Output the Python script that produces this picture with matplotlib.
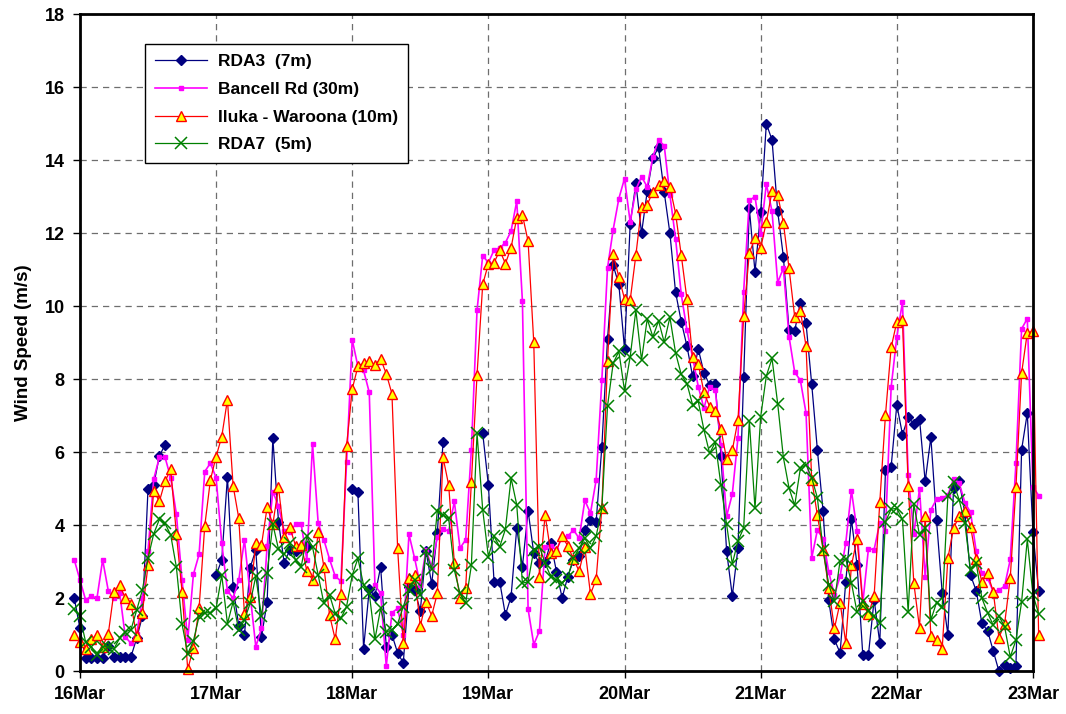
import numpy as np
import matplotlib
matplotlib.use("Agg")
import matplotlib.pyplot as plt

plt.rcParams['font.family'] = ['Liberation Sans', 'DejaVu Sans']
plt.rcParams['font.weight'] = 'bold'

nan = np.nan

# hourly wind speed (m/s), 15Mar 23:00 .. 23Mar 01:00
rda3 = [2.0,
    1.17, 0.35, 0.35, 0.35, 0.35, 0.7, 0.4, 0.4, 0.4, 0.4, 0.9, 1.5, 5.0, 5.1, 5.9, 6.2, nan, nan, nan, nan, nan, nan, nan, nan,
    2.63, 3.05, 5.33, 2.3, 1.24, 0.99, 2.84, 3.32, 0.94, 1.9, 6.39, 4.1, 2.97, 3.32, 3.3, 3.37, 3.44, nan, nan, nan, nan, nan, nan, nan,
    4.99, 4.9, 0.62, 2.24, 2.06, 2.86, 0.67, 1.0, 0.5, 0.23, 2.3, 2.22, 1.66, 3.3, 2.39, 3.78, 6.27, nan, nan, nan, nan, nan, nan, 6.52,
    5.1, 2.45, 2.45, 1.54, 2.04, 3.92, 2.86, 4.4, 3.23, 2.96, 3.0, 3.52, 2.73, 2.01, 2.59, 3.05, 3.16, 3.87, 4.13, 4.1, 6.14, 9.1, 11.12, 10.6,
    8.83, 12.26, 13.37, 12.0, 13.15, 14.07, 14.35, 13.12, 12.0, 10.38, 9.58, 8.91, 8.08, 8.83, 8.18, 7.84, 7.86, 5.9, 3.28, 2.06, 3.38, 8.05, 12.68, 10.94,
    12.57, 15.0, 14.56, 12.6, 11.36, 9.35, 9.33, 10.1, 9.53, 7.86, 6.06, 4.39, 1.94, 0.87, 0.5, 2.45, 4.16, 2.9, 0.45, 0.45, 1.96, 0.77, 5.5, 5.6,
    7.3, 6.48, 6.96, 6.78, 6.91, 5.2, 6.41, 4.13, 2.15, 1.0, 5.01, 5.2, 4.33, 2.63, 2.2, 1.31, 1.11, 0.56, 0.0, 0.16, 0.1, 0.15, 6.07, 7.07,
    3.8, 2.2]

bancell = [3.05,
    2.5, 1.95, 2.06, 2.0, 3.05, 2.2, 2.0, 2.15, 0.94, 0.76, 1.03, 2.0, 3.3, 5.26, 5.86, 5.86, 5.3, 4.3, 2.5, 0.85, 2.65, 3.2, 5.47, 5.7,
    5.3, 3.5, 2.2, 2.0, 2.5, 3.6, 2.1, 0.67, 1.17, 3.43, 4.92, 4.53, 3.83, 3.8, 4.03, 4.03, 3.05, 6.23, 4.05, 3.6, 3.07, 2.6, 2.47, 5.72,
    9.08, 8.35, 8.24, 7.64, 2.36, 2.13, 0.14, 1.6, 1.72, 1.0, 3.75, 3.09, 2.36, 3.32, 2.86, 3.67, 3.89, 3.84, 4.65, 3.37, 3.6, 6.07, 9.89, 11.39,
    11.19, 11.54, 11.6, 11.74, 12.06, 12.88, 10.14, 1.7, 0.73, 1.1, 3.41, 3.44, 3.32, 3.67, 3.7, 3.87, 3.64, 4.68, 4.33, 5.24, 7.97, 11.05, 12.1, 12.95,
    13.5, 12.3, 13.2, 13.55, 13.27, 14.1, 14.55, 14.4, 13.05, 11.85, 10.33, 9.35, 8.6, 7.8, 7.2, 7.8, 7.7, 6.2, 4.25, 4.85, 6.4, 10.4, 12.9, 13.0,
    11.98, 13.35, 12.6, 10.65, 11.04, 9.17, 8.19, 7.97, 7.07, 3.1, 3.87, 3.63, 2.72, 2.08, 2.6, 3.51, 4.95, 3.84, 1.86, 3.36, 3.33, 4.07, 3.84, 7.78,
    9.16, 10.12, 5.38, 3.76, 5.0, 2.57, 4.42, 4.71, 4.74, 4.83, 5.27, 5.15, 4.62, 4.35, 3.28, 2.68, 2.55, 2.18, 2.22, 2.33, 3.06, 5.7, 9.38, 9.66,
    5.06, 4.81]

iluka = [1.0,
    0.8, 0.6, 0.87, 1.0, 0.67, 1.03, 2.18, 2.36, 2.0, 1.84, 0.96, 1.6, 2.9, 4.95, 4.65, 5.2, 5.53, 3.76, 2.18, 0.05, 0.64, 1.72, 3.98, 5.24,
    5.88, 6.43, 7.44, 5.08, 4.19, 1.56, 2.04, 3.5, 3.46, 4.49, 4.03, 5.04, 3.67, 3.94, 3.44, 3.46, 2.75, 2.5, 3.8, 2.86, 1.54, 0.87, 2.11, 6.16,
    7.73, 8.35, 8.44, 8.49, 8.38, 8.56, 8.15, 7.6, 3.37, 0.76, 2.56, 2.63, 1.24, 1.9, 1.52, 2.13, 5.86, 5.1, 2.97, 2.0, 2.29, 5.17, 8.12, 10.6,
    11.16, 11.19, 11.53, 11.17, 11.6, 12.42, 12.5, 11.78, 9.01, 2.59, 4.28, 3.25, 3.3, 3.7, 3.43, 3.07, 2.74, 3.39, 2.11, 2.52, 4.46, 8.49, 11.42, 10.8,
    10.2, 10.17, 11.4, 12.73, 12.78, 13.14, 13.32, 13.44, 13.27, 12.54, 11.4, 10.2, 8.6, 8.42, 7.64, 7.25, 7.12, 6.64, 5.8, 6.05, 6.88, 9.72, 11.46, 11.87,
    11.6, 12.3, 13.15, 13.05, 12.29, 11.04, 9.71, 9.88, 8.9, 5.25, 4.27, 3.33, 2.27, 1.17, 1.88, 0.78, 2.9, 3.63, 1.84, 1.56, 2.06, 4.63, 7.02, 8.87,
    9.57, 9.62, 5.08, 2.41, 1.19, 4.25, 0.96, 0.85, 0.62, 3.09, 3.92, 4.24, 4.4, 3.96, 3.06, 2.45, 2.68, 2.18, 0.92, 1.29, 2.56, 5.04, 8.17, 9.27,
    9.31, 1.0]

rda7 = [1.7,
    1.5, 0.8, 0.67, 0.44, 0.67, 0.67, 0.62, 0.9, 1.08, 1.14, 1.67, 2.22, 3.1, 3.76, 4.16, 4.05, 3.73, 2.85, 1.29, 0.48, 0.83, 1.5, 1.6, 1.6,
    1.72, 2.63, 1.3, 1.9, 1.12, 1.4, 1.86, 2.6, 1.5, 2.7, 4.03, 3.34, 3.2, 3.5, 3.05, 2.86, 3.69, 3.4, 2.63, 1.86, 2.09, 1.58, 1.45, 1.77,
    2.63, 3.09, 2.36, 2.13, 0.87, 1.72, 1.08, 1.12, 1.3, 1.77, 2.22, 2.5, 2.09, 3.28, 2.79, 4.4, 4.28, 4.19, 2.77, 2.13, 1.86, 2.9, 6.52, 4.42,
    3.14, 3.69, 3.41, 3.89, 5.29, 4.56, 2.41, 2.45, 3.32, 3.41, 2.96, 2.59, 2.5, 2.41, 2.59, 3.09, 3.37, 3.64, 3.37, 3.7, 4.46, 7.26, 8.44, 8.76,
    7.69, 8.62, 9.89, 8.52, 9.65, 9.16, 9.6, 9.01, 9.7, 8.72, 8.13, 7.88, 7.3, 7.39, 6.61, 5.97, 6.27, 5.09, 4.02, 2.94, 3.57, 3.92, 6.86, 4.46,
    6.97, 8.09, 8.57, 7.33, 5.86, 5.02, 4.54, 5.56, 5.66, 5.3, 4.75, 3.33, 2.37, 1.91, 3.03, 3.08, 2.42, 1.61, 1.91, 1.66, 1.51, 1.31, 4.09, 4.44,
    4.46, 4.16, 1.63, 4.58, 3.73, 3.92, 1.4, 1.88, 1.77, 4.8, 5.17, 4.69, 4.05, 2.77, 2.96, 2.0, 1.6, 1.26, 1.51, 1.22, 0.39, 0.85, 1.9, 3.61,
    2.09, 1.58]

day_labels = ["16Mar", "17Mar", "18Mar", "19Mar", "20Mar", "21Mar", "22Mar", "23Mar"]
hours = np.arange(-1, len(rda3) - 1)  # hours since 16Mar 00:00

fig = plt.figure(figsize=(10.66, 7.14), dpi=100)
ax = fig.add_axes([0.075, 0.060, 0.894, 0.920])

ax.plot(hours, rda3, color='#000080', lw=0.9, marker='D', ms=4.8,
        mfc='#000080', mec='#000080', label='RDA3  (7m)', clip_on=False)
ax.plot(hours, bancell, color='#FF00FF', lw=1.2, marker='s', ms=3.2,
        mfc='#FF00FF', mec='#FF00FF', label='Bancell Rd (30m)', clip_on=False)
ax.plot(hours, iluka, color='#FF0000', lw=0.9, marker='^', ms=6.5,
        mfc='#FFFF00', mec='#FF0000', mew=1.0, label='Iluka - Waroona (10m)', clip_on=False)
ax.plot(hours, rda7, color='#008000', lw=0.9, marker='x', ms=8.5,
        mec='#008000', mew=1.1, label='RDA7  (5m)', clip_on=False)

ax.set_xlim(0, 168)
ax.set_ylim(0, 18)
ax.set_xticks(np.arange(0, 169, 24))
ax.set_xticklabels(day_labels, fontsize=13, fontweight='bold')
ax.set_yticks(np.arange(0, 19, 2))
ax.set_yticklabels([str(v) for v in range(0, 19, 2)], fontsize=13, fontweight='bold')
ax.set_ylabel('Wind Speed (m/s)', fontsize=13.5, fontweight='bold', labelpad=9)

ax.grid(True, color='#6e6e6e', ls=(0, (5, 4)), lw=0.9)
ax.set_axisbelow(True)
ax.tick_params(direction='out', length=5, width=1, colors='black', pad=6)

for side in ['left', 'bottom', 'right', 'top']:
    ax.spines[side].set_linewidth(2.0)
    ax.spines[side].set_color('black')

leg = ax.legend(loc='upper left', bbox_to_anchor=(0.068, 0.955), borderaxespad=0,
                fancybox=False, framealpha=1, edgecolor='black',
                prop={'weight': 'bold', 'size': 12.5}, handlelength=3.0,
                labelspacing=0.72, borderpad=0.6, handletextpad=0.6)
leg.get_frame().set_linewidth(1.0)

fig.savefig('out.png', dpi=100)
